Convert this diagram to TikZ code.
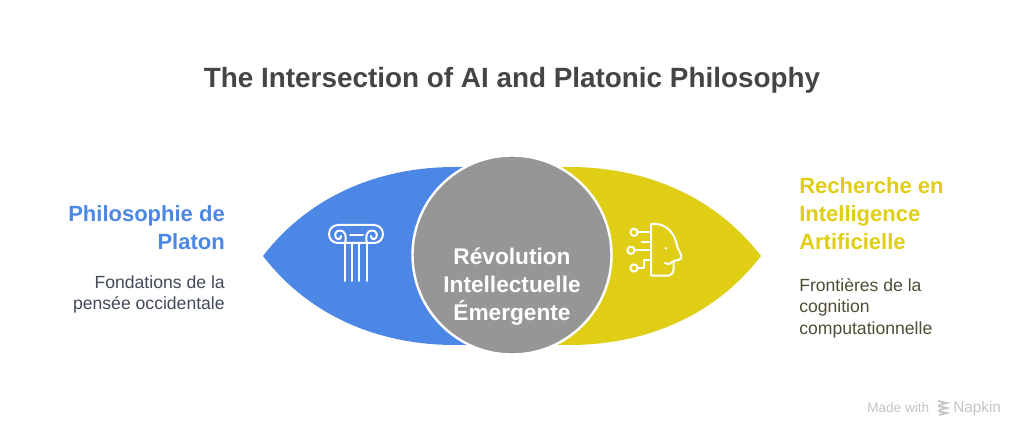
\documentclass[tikz,border=0pt]{standalone}
\usepackage{fontspec}
\setmainfont{Liberation Sans}
\definecolor{platoblue}{HTML}{4D87E6}
\definecolor{aiyellow}{HTML}{E0CE16}
\definecolor{midgray}{HTML}{969696}
\definecolor{titlegray}{HTML}{454545}
\definecolor{subblue}{HTML}{414A5A}
\definecolor{subyellow}{HTML}{4F4D36}
\definecolor{markgray}{HTML}{C4C4C4}
\tikzset{
    heading/.style={inner sep=0pt, font=\fontsize{16.5}{21}\selectfont\bfseries},
    subtext/.style={inner sep=0pt, font=\fontsize{13.2}{16.2}\selectfont},
    iconline/.style={white, line width=1.5pt, line cap=round, line join=round}
}

\begin{document}
\begin{tikzpicture}[x=0.75pt, y=-0.75pt]
    \useasboundingbox (0,0) rectangle (1024,441);
    % Title
    \node[inner sep=0pt, text=titlegray, font=\fontsize{20.9}{25}\selectfont\bfseries] (title) at (512,80) {The Intersection of AI and Platonic Philosophy};
    % Lens halves
    \fill[platoblue] (263,256) .. controls (310,195) and (380,167) .. (455,167) -- (520,167) -- (520,345) -- (455,345) .. controls (380,345) and (310,317) .. (263,256) -- cycle;
    \fill[aiyellow] (761,256) .. controls (714,195) and (644,167) .. (569,167) -- (504,167) -- (504,345) -- (569,345) .. controls (644,345) and (714,317) .. (761,256) -- cycle;
    % Center circle
    \draw[white, line width=1.8pt, fill=midgray] (512,255) circle (99.5);
    \node[heading, text=white, align=center, font=\fontsize{17}{21}\selectfont\bfseries] (center) at (512,287) {Révolution\\Intellectuelle\\Émergente};
    % Column icon
    \draw[iconline] (338,225) -- (374,225) .. controls (379.5,225) and (383,229.5) .. (383,234) .. controls (383,239) and (379.5,243) .. (374,243) -- (338,243) .. controls (332.5,243) and (329,239) .. (329,234) .. controls (329,229.5) and (332.5,225) .. (338,225);
    \draw[iconline] (345,243) .. controls (347,236) and (345,230.5) .. (340,230.5) .. controls (336,230.5) and (334.5,234) .. (335.5,237) .. controls (337,240) and (341,240) .. (341,236);
    \draw[iconline] (367,243) .. controls (365,236) and (367,230.5) .. (372,230.5) .. controls (376,230.5) and (377.5,234) .. (376.5,237) .. controls (375,240) and (371,240) .. (371,236);
    \draw[iconline] (350,235) -- (363,235);
    \foreach \flutex in {344.7,352,359.3,366.7} {
        \draw[iconline] (\flutex,243) -- (\flutex,281);
    }
    % Head icon
    \draw[iconline] (651,224) -- (655,224) .. controls (666,224) and (675,233) .. (677,246) -- (681.5,256) .. controls (682,258) and (680.5,259.5) .. (678.5,260) -- (673.5,261) -- (673.5,269.5) .. controls (673.5,273) and (671,275.7) .. (667,275.7) -- (651,275.7) -- cycle;
    \draw[iconline] (665,263) .. controls (667,265) and (670.5,264.5) .. (672,261.5);
    \fill[white] (665.7,248.3) circle (1.4);
    \draw[iconline] (634,232.3) circle (3.6);
    \draw[iconline] (631,250.3) circle (3.6);
    \draw[iconline] (634,268) circle (3.6);
    \draw[iconline] (637.6,232.3) -- (651,232.3);
    \draw[iconline] (641.7,242) -- (651,242);
    \draw[iconline] (634.6,250.3) -- (651,250.3);
    \draw[iconline] (637.6,268) -- (643.5,268) -- (643.5,259.7) -- (651,259.7);
    % Left labels
    \node[heading, text=platoblue, align=right, anchor=north east] (plato) at (225,205) {Philosophie de\\Platon};
    \node[subtext, text=subblue, align=right, anchor=north east] (platosub) at (225,275) {Fondations de la\\pensée occidentale};
    % Right labels
    \node[heading, text=aiyellow, align=left, anchor=north west] (recherche) at (799,177) {Recherche en\\Intelligence\\Artificielle};
    \node[subtext, text=subyellow, align=left, anchor=north west] (recherchesub) at (799,278) {Frontières de la\\cognition\\computationnelle};
    % Watermark
    \node[inner sep=0pt, text=markgray, anchor=base west, font=\fontsize{10.2}{12}\selectfont] (made) at (867,412) {Made with};
    \node[inner sep=0pt, text=markgray, anchor=base west, font=\fontsize{11.5}{12}\selectfont] (napkin) at (953,412) {Napkin};
    \foreach \logoy in {402,407,412} {
        \draw[markgray, line width=1.3pt] (938,\logoy-1) -- (947,\logoy+1) -- (939,\logoy+3);
    }
\end{tikzpicture}
\end{document}
